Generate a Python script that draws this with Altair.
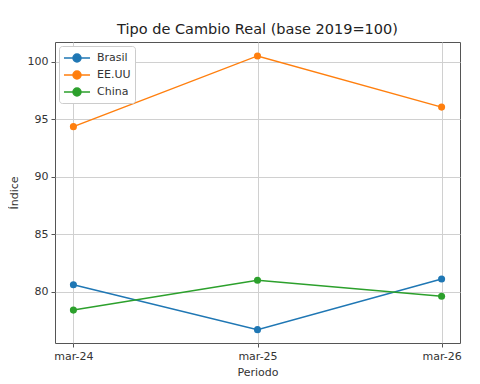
import altair as alt
import pandas as pd

periods = ["mar-24", "mar-25", "mar-26"]
brasil = [80.6, 76.7, 81.1]
eeuu = [94.35, 100.5, 96.05]
china = [78.4, 81.0, 79.6]
series = ["Brasil", "EE.UU", "China"]
colors = ["#1f77b4", "#ff7f0e", "#2ca02c"]

rows = []
for name, vals in zip(series, [brasil, eeuu, china]):
    for p, v in zip(periods, vals):
        rows.append({"Periodo": p, "Serie": name, "Indice": v})
df = pd.DataFrame(rows)

legend_path = "M-1.86,0H1.86M-0.57,0A0.57,0.57 0 1,0 0.57,0A0.57,0.57 0 1,0 -0.57,0Z"

color = alt.Color(
    "Serie:N",
    scale=alt.Scale(domain=series, range=colors),
    sort=series,
    legend=alt.Legend(
        title=None,
        orient="none",
        legendX=4,
        legendY=4,
        symbolType=legend_path,
        symbolSize=196,
        symbolStrokeWidth=1.5,
        symbolOffset=6,
        labelFontSize=11,
        labelColor="#333333",
        labelFont="DejaVu Sans",
        rowPadding=2,
        padding=4,
        fillColor="white",
        strokeColor="#cccccc",
        cornerRadius=3,
        labelOffset=12,
    ),
)

axis_common = dict(
    grid=True,
    gridColor="#d0d0d0",
    tickColor="#555555",
    tickSize=4,
    domain=False,
    labelFontSize=11,
    labelColor="#333333",
    labelFont="DejaVu Sans",
    titleFont="DejaVu Sans",
    titleFontSize=11,
    titleFontWeight="normal",
    titleColor="#333333",
    labelPadding=3,
)

x = alt.X(
    "Periodo:O",
    sort=periods,
    scale=alt.Scale(type="point", padding=0.1),
    axis=alt.Axis(title="Periodo", labelAngle=0, titlePadding=5, **axis_common),
)
y = alt.Y(
    "Indice:Q",
    scale=alt.Scale(domain=[75.54, 101.71], nice=False, zero=False),
    axis=alt.Axis(title="Índice", values=[80, 85, 90, 95, 100], titlePadding=8, **axis_common),
)

base = alt.Chart(df).encode(x=x, y=y, color=color)
lines = base.mark_line(strokeWidth=1.5)
points = base.mark_point(filled=True, size=50, opacity=1)

chart = (
    alt.layer(lines, points)
    .properties(
        width=405,
        height=301,
        title=alt.TitleParams(
            "Tipo de Cambio Real (base 2019=100)",
            font="DejaVu Sans",
            fontSize=14.5,
            fontWeight="normal",
            color="#222222",
            offset=5,
        ),
        autosize=alt.AutoSizeParams(type="none"),
        padding={"left": 47, "top": 34, "right": 12, "bottom": 40},
    )
    .configure_view(stroke="#555555", strokeWidth=1)
)

chart.save("out.html", embed_options={"renderer": "svg", "actions": False})
